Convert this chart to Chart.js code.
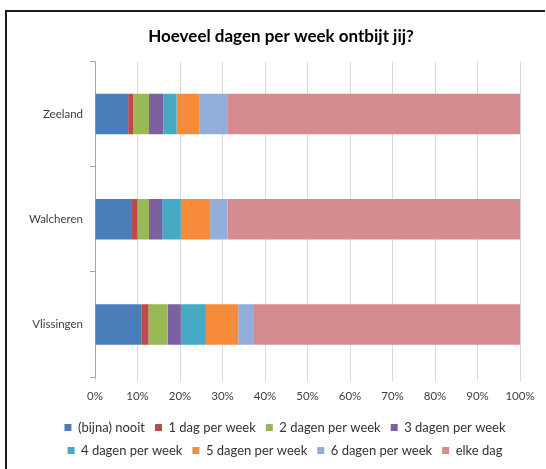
<!DOCTYPE html>
<html>
<head>
<meta charset="utf-8">
<script src="https://cdn.jsdelivr.net/npm/chart.js@4/dist/chart.umd.min.js"></script>
<style>
  body { margin: 0; background: #fff; }
  #frame { position: absolute; left: 5px; top: 10px; width: 540px; height: 470px;
           border-left: 2px solid #1a1a1a; border-top: 2px solid #1a1a1a; box-sizing: border-box; }
  #wrap { position: absolute; left: 0; top: 0; width: 546px; height: 469px; }
</style>
</head>
<body>
<div id="frame"></div>
<div id="wrap"><canvas id="ontbijtChart" width="546" height="469"></canvas></div>
<script>
// Gegevens (percentages per regio)
const regios = ['Zeeland', 'Walcheren', 'Vlissingen'];
const nooit     = [7.8, 8.5, 11.0];
const dag1      = [1.2, 1.5, 1.6];
const dagen2    = [3.7, 2.7, 4.5];
const dagen3    = [3.4, 3.1, 3.1];
const dagen4    = [3.1, 4.4, 5.9];
const dagen5    = [5.3, 6.9, 7.6];
const dagen6    = [6.6, 4.1, 3.5];
const elkeDag   = [68.9, 68.8, 62.8];
const xTicks = [0, 10, 20, 30, 40, 50, 60, 70, 80, 90, 100];

const reeksen = [
    ['(bijna) nooit', nooit, '#4A7EBB'],
    ['1 dag per week', dag1, '#BE4B48'],
    ['2 dagen per week', dagen2, '#98B954'],
    ['3 dagen per week', dagen3, '#7D60A0'],
    ['4 dagen per week', dagen4, '#46AAC5'],
    ['5 dagen per week', dagen5, '#F68C3A'],
    ['6 dagen per week', dagen6, '#93AED9'],
    ['elke dag', elkeDag, '#D48C8F']
];

// titel en legenda iets naar rechts, zoals in Excel
const verschuif = {
    id: 'verschuif',
    afterLayout(chart) {
        chart.titleBlock.left = 42;
        chart.titleBlock.right = 520;
        chart.legend.left = 42;
        chart.legend.right = 528;
    }
};

const ctx = document.getElementById('ontbijtChart').getContext('2d');
new Chart(ctx, {
    type: 'bar',
    data: {
        labels: regios,
        datasets: reeksen.map(r => ({
            label: r[0],
            data: r[1],
            backgroundColor: r[2],
            borderWidth: 0,
            barPercentage: 0.385,
            categoryPercentage: 1
        }))
    },
    options: {
        indexAxis: 'y',
        responsive: false,
        animation: false,
        layout: { padding: { top: 26, right: 26, left: 0, bottom: 2 } },
        plugins: {
            title: {
                display: true,
                text: 'Hoeveel dagen per week ontbijt jij?',
                font: { family: 'Lato', size: 17, weight: 'bold' },
                color: '#000',
                padding: { top: 0, bottom: 15 }
            },
            legend: {
                position: 'bottom',
                labels: {
                    font: { family: 'Lato', size: 13 },
                    color: '#333',
                    boxWidth: 7,
                    boxHeight: 7,
                    padding: 10
                }
            },
            tooltip: { enabled: false }
        },
        scales: {
            x: {
                stacked: true,
                min: 0,
                max: 100,
                afterBuildTicks: s => { s.ticks = xTicks.map(v => ({ value: v })); },
                ticks: {
                    callback: v => v + '%',
                    font: { family: 'Lato', size: 11.5 },
                    color: '#404040',
                    padding: 8
                },
                grid: { color: '#D9D9D9', tickLength: 4 },
                border: { display: false }
            },
            y: {
                stacked: true,
                afterFit: s => { s.width = 95; },
                ticks: {
                    font: { family: 'Lato', size: 11.5 },
                    color: '#404040',
                    padding: 7
                },
                grid: { offset: true, drawOnChartArea: false, color: '#A6A6A6', tickLength: 5 },
                border: { color: '#A6A6A6' }
            }
        }
    },
    plugins: [verschuif]
});
</script>
</body>
</html>
